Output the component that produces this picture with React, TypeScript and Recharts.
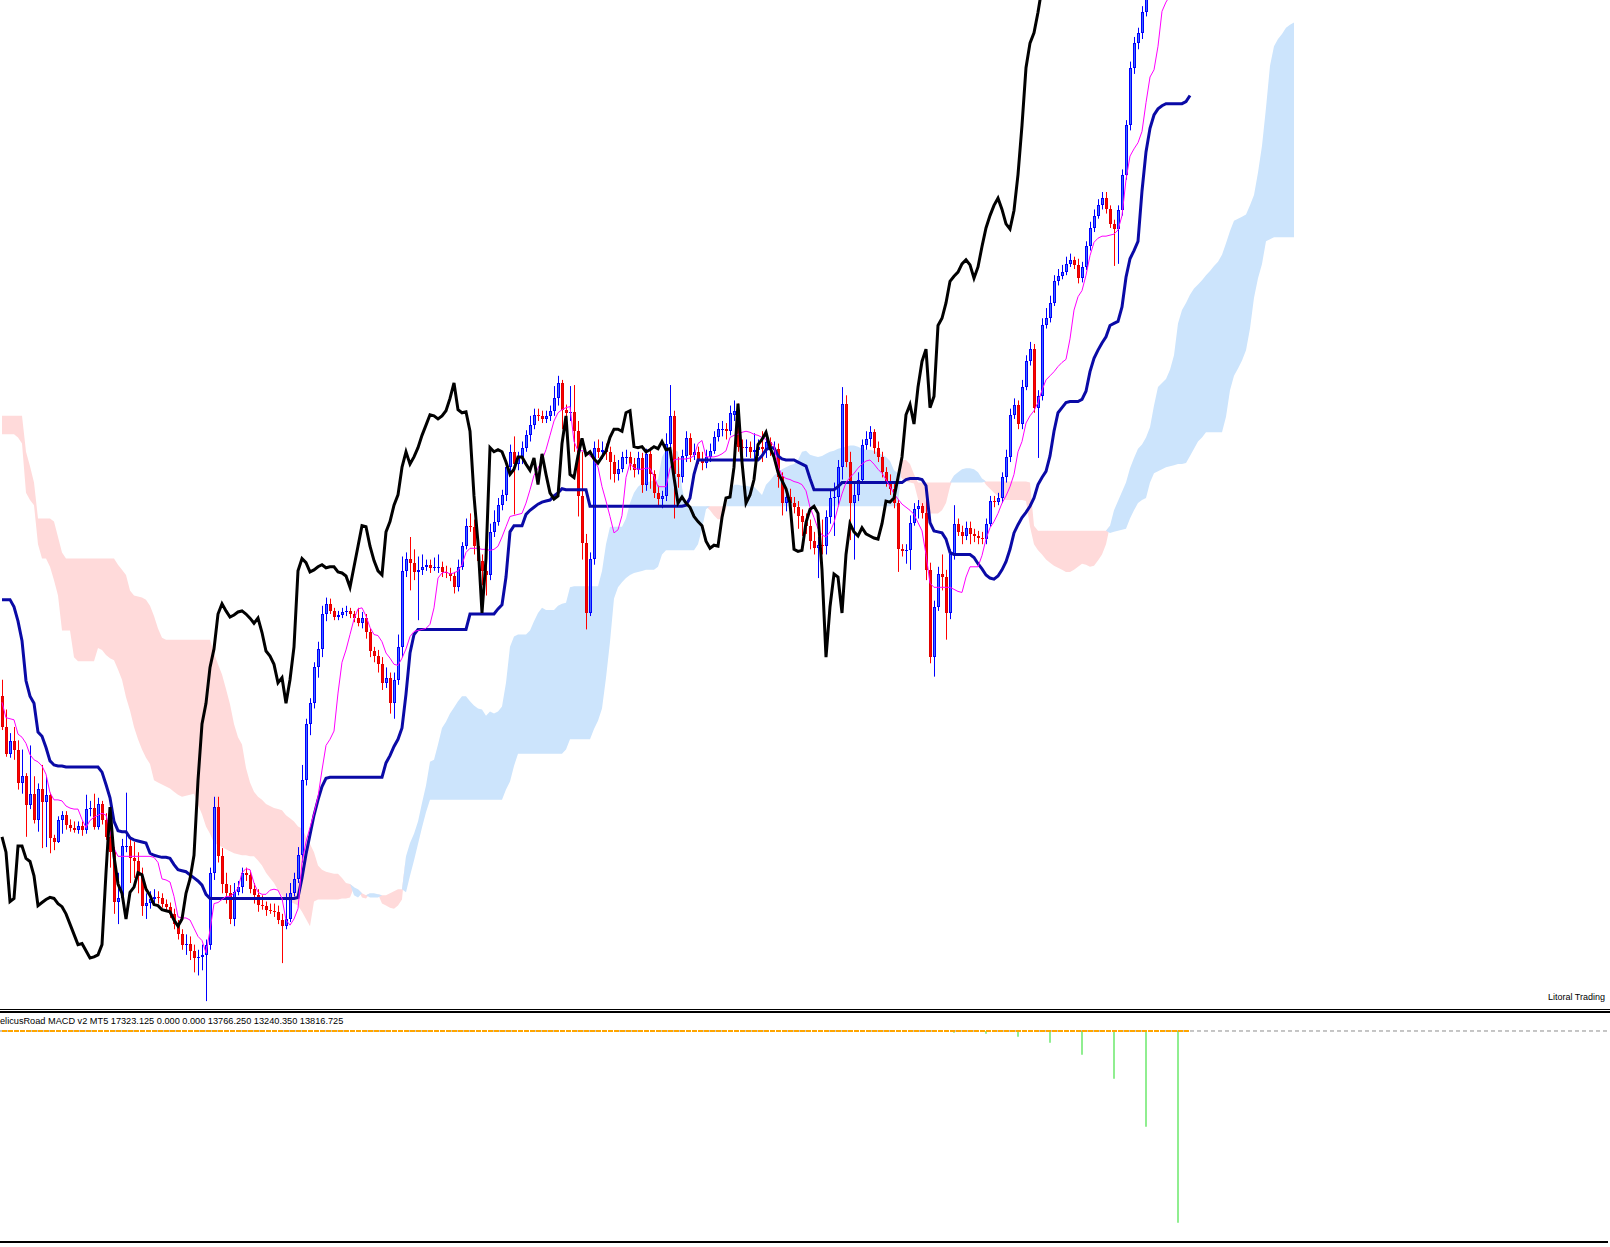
import React from "react";
import { Area, Bar, ComposedChart, Line, ReferenceLine, XAxis, YAxis } from "recharts";

// Daily bars, price in chart points. One entry per bar, oldest first.
const opens = [
  322, 292, 266, 278, 270, 237, 244, 216, 227, 201, 232, 219, 226, 184, 180, 201, 206, 197, 194, 192,
  196, 192, 212, 213, 195, 217, 201, 185, 170, 122, 125, 176, 176, 164, 161, 147, 118, 121, 124, 126,
  125, 120, 117, 110, 100, 90, 80, 81, 74, 67, 68, 70, 80, 150, 214, 166, 139, 130, 105, 131,
  136, 150, 148, 134, 128, 119, 118, 114, 113, 112, 104, 98, 105, 130, 144, 167, 240, 295, 315, 350,
  368, 402, 412, 405, 399, 401, 404, 405, 402, 398, 393, 398, 384, 366, 361, 353, 335, 340, 315, 338,
  370, 444, 456, 452, 443, 445, 448, 450, 447, 448, 448, 443, 442, 439, 428, 448, 468, 488, 487, 468,
  454, 444, 440, 482, 492, 508, 518, 545, 560, 548, 555, 564, 576, 586, 596, 595, 592, 595, 600, 612,
  627, 601, 598, 599, 580, 517, 471, 403, 456, 564, 560, 562, 560, 550, 538, 543, 555, 555, 548, 542,
  554, 528, 558, 538, 520, 514, 517, 568, 595, 538, 535, 556, 573, 557, 560, 553, 549, 555, 561, 574,
  582, 582, 580, 596, 600, 565, 564, 565, 560, 562, 565, 563, 570, 562, 563, 535, 510, 516, 510, 506,
  497, 492, 488, 473, 466, 469, 468, 496, 515, 516, 545, 607, 550, 510, 518, 533, 567, 572, 579, 564,
  555, 540, 532, 524, 510, 465, 463, 464, 491, 504, 507, 500, 445, 360, 409, 441, 438, 403, 460, 490,
  482, 478, 486, 480, 478, 476, 475, 490, 512, 511, 515, 535, 555, 596, 606, 587, 623, 648, 660, 603,
  614, 683, 690, 705, 726, 731, 735, 743, 747, 742, 729, 740, 760, 778, 790, 800, 807, 796, 782, 777,
  795, 830, 878, 934, 958, 968, 988, 1012, 1025, 1035, 1040, 1030, 1038, 1028, 1020, 1032, 1025, 1035,
];
const highs = [
  338, 309, 286, 292, 279, 270, 247, 274, 244, 237, 255, 244, 228, 187, 205, 210, 210, 202, 200, 200,
  200, 226, 220, 227, 223, 220, 208, 210, 175, 150, 183, 228, 185, 180, 170, 155, 130, 132, 134, 132,
  130, 124, 121, 115, 104, 95, 90, 88, 80, 75, 80, 85, 155, 224, 224, 174, 150, 138, 140, 142,
  155, 155, 152, 140, 134, 128, 122, 120, 120, 118, 110, 130, 140, 150, 175, 255, 300, 320, 355, 375,
  410, 418, 417, 408, 405, 408, 410, 408, 405, 408, 404, 402, 388, 370, 367, 360, 350, 345, 345, 382,
  458, 462, 477, 465, 458, 460, 455, 455, 457, 460, 453, 449, 447, 443, 455, 472, 495, 500, 494, 474,
  460, 485, 490, 503, 515, 523, 552, 567, 575, 560, 570, 581, 595, 602, 602, 600, 600, 605, 624, 634,
  630, 606, 624, 625, 590, 560, 480, 462, 570, 572, 570, 568, 565, 557, 552, 560, 562, 560, 554, 560,
  559, 563, 564, 542, 527, 522, 578, 625, 600, 555, 562, 580, 578, 568, 565, 560, 562, 568, 580, 588,
  590, 588, 605, 610, 607, 572, 572, 570, 578, 572, 580, 576, 574, 570, 568, 540, 522, 524, 516, 512,
  504, 500, 494, 482, 477, 494, 503, 522, 530, 552, 623, 615, 560, 530, 540, 572, 580, 585, 582, 570,
  560, 545, 538, 530, 513, 470, 470, 498, 510, 513, 510, 520, 452, 415, 448, 460, 445, 465, 508, 495,
  488, 492, 492, 485, 483, 482, 495, 517, 517, 520, 540, 562, 602, 612, 610, 630, 654, 667, 665, 620,
  690, 700, 712, 732, 738, 742, 750, 753, 750, 748, 745, 765, 784, 796, 806, 813, 813, 800, 786, 800,
  835, 883, 940, 964, 973, 994, 1018, 1032, 1042, 1046, 1044, 1043, 1042, 1034, 1038, 1040, 1041, 1040,
];
const lows = [
  289, 263, 262, 260, 231, 227, 185, 212, 198, 190, 174, 175, 169, 172, 179, 188, 192, 190, 189, 188,
  186, 188, 205, 192, 192, 197, 182, 155, 110, 100, 120, 170, 140, 145, 130, 108, 105, 115, 120, 120,
  116, 112, 106, 95, 85, 75, 70, 65, 53, 50, 55, 25, 75, 143, 160, 130, 120, 100, 98, 128,
  130, 142, 130, 120, 112, 114, 108, 110, 107, 100, 62, 95, 102, 127, 140, 160, 235, 284, 310, 340,
  360, 395, 402, 396, 396, 398, 400, 398, 394, 390, 388, 378, 360, 355, 345, 328, 330, 305, 300, 333,
  360, 438, 425, 435, 396, 440, 444, 442, 444, 442, 438, 437, 434, 422, 424, 445, 465, 482, 460, 448,
  430, 420, 435, 477, 488, 503, 512, 540, 499, 542, 548, 560, 570, 582, 590, 588, 588, 590, 595, 605,
  582, 580, 590, 560, 497, 455, 387, 400, 450, 554, 553, 552, 533, 530, 532, 540, 548, 542, 535, 538,
  520, 522, 524, 515, 508, 505, 512, 564, 495, 525, 530, 550, 550, 552, 548, 542, 544, 550, 558, 570,
  575, 572, 576, 590, 560, 558, 555, 554, 552, 556, 550, 554, 556, 555, 525, 498, 502, 504, 500, 485,
  478, 480, 465, 460, 437, 460, 460, 490, 478, 507, 533, 545, 474, 455, 512, 530, 562, 565, 558, 550,
  535, 526, 518, 505, 443, 458, 451, 445, 488, 495, 495, 435, 354, 341, 405, 425, 377, 397, 455, 478,
  470, 474, 470, 472, 470, 470, 470, 487, 506, 508, 510, 530, 550, 592, 582, 582, 620, 644, 598, 554,
  610, 680, 686, 702, 722, 728, 732, 740, 738, 724, 725, 737, 756, 774, 787, 796, 792, 778, 741, 743,
  790, 825, 873, 928, 952, 962, 984, 1006, 1018, 1028, 1024, 1022, 1020, 1012, 1014, 1018, 1020, 1022,
];
const closes = [
  292, 266, 278, 270, 237, 244, 216, 227, 201, 232, 219, 226, 184, 180, 201, 206, 197, 194, 192, 196,
  192, 212, 213, 195, 217, 201, 185, 170, 122, 125, 176, 176, 164, 161, 147, 118, 121, 124, 126, 125,
  120, 117, 110, 100, 90, 80, 81, 74, 67, 68, 70, 80, 150, 214, 166, 139, 130, 105, 131, 136,
  150, 148, 134, 128, 119, 118, 114, 113, 112, 104, 98, 105, 130, 144, 167, 240, 295, 315, 350, 368,
  402, 412, 405, 399, 401, 404, 405, 402, 398, 393, 398, 384, 366, 361, 353, 335, 340, 315, 338, 370,
  444, 456, 452, 443, 445, 448, 450, 447, 448, 448, 443, 442, 439, 428, 448, 468, 488, 487, 468, 454,
  444, 440, 482, 492, 508, 518, 545, 560, 548, 555, 564, 576, 586, 596, 595, 592, 595, 600, 612, 627,
  601, 598, 599, 580, 517, 471, 403, 456, 564, 560, 562, 560, 550, 538, 543, 555, 555, 548, 542, 554,
  528, 558, 538, 520, 514, 517, 568, 595, 538, 535, 556, 573, 557, 560, 553, 549, 555, 561, 574, 582,
  582, 580, 598, 600, 565, 564, 565, 560, 562, 565, 563, 570, 562, 563, 535, 510, 516, 510, 506, 497,
  492, 488, 473, 466, 469, 468, 496, 515, 516, 545, 607, 550, 510, 518, 533, 567, 572, 579, 564, 555,
  540, 532, 524, 510, 465, 463, 464, 491, 504, 507, 500, 445, 360, 409, 441, 438, 403, 460, 490, 482,
  478, 486, 480, 478, 476, 475, 490, 512, 511, 515, 535, 555, 596, 606, 587, 623, 648, 660, 603, 614,
  683, 690, 705, 726, 731, 735, 743, 747, 742, 729, 740, 760, 778, 790, 800, 807, 796, 782, 777, 795,
  830, 878, 934, 958, 968, 988, 1012, 1025, 1035, 1040, 1030, 1038, 1028, 1020, 1032, 1025, 1035, 1030,
];

// Ichimoku lines as plotted by the terminal
const tenkan = [
  316, 301, 300, 299, 285, 282, 276, 265, 260, 258, 254, 246, 228, 221, 221, 220, 215, 213, 212, 212,
  202, 194, 201, 204, 206, 208, 206, 191, 174, 166, 166, 166, 166, 166, 166, 166, 166, 166, 165, 160,
  144, 143, 141, 127, 107, 106, 106, 104, 96, 88, 84, 72, 94, 120, 121, 124, 127, 127, 130, 135,
  150, 154, 153, 140, 131, 129, 129, 133, 134, 133, 125, 104, 99, 105, 115, 160, 180, 194, 208, 224,
  250, 274, 280, 288, 325, 355, 367, 382, 397, 407, 408, 400, 389, 382, 381, 375, 364, 359, 353, 352,
  359, 368, 380, 385, 386, 387, 388, 392, 408, 437, 442, 443, 441, 442, 444, 450, 462, 466, 466, 466,
  465, 465, 464, 465, 468, 477, 487, 497, 498, 499, 500, 510, 523, 537, 544, 552, 562, 576, 590, 598,
  601, 603, 604, 570, 561, 561, 560, 556, 552, 545, 526, 512, 497, 481, 484, 498, 535, 549, 544, 543,
  543, 544, 544, 536, 526, 526, 526, 544, 552, 553, 553, 553, 554, 556, 568, 571, 555, 555, 555, 556,
  558, 561, 574, 576, 577, 579, 580, 579, 577, 576, 574, 572, 570, 566, 546, 537, 534, 533, 531, 530,
  528, 522, 506, 496, 485, 479, 477, 482, 491, 506, 519, 530, 535, 539, 544, 548, 551, 552, 548, 543,
  539, 533, 526, 519, 514, 509, 506, 503, 499, 491, 483, 460, 432, 428, 428, 428, 428, 428, 426, 424,
  423, 438, 448, 448, 448, 459, 475, 486, 492, 500, 510, 517, 526, 538, 560, 570, 588, 595, 600, 608,
  620, 630, 634, 638, 643, 647, 650, 670, 698, 711, 717, 732, 751, 764, 768, 770, 770, 771, 772, 776,
  790, 825, 848, 855, 861, 872, 900, 925, 932, 955, 989, 998, 1004, 1012, 1020, 1028, 1030, 1032,
];
const kijun = [
  416, 416, 416, 409, 395, 376, 337, 322, 315, 287, 283, 272, 259, 255, 254, 254, 253, 253, 253, 253,
  253, 253, 253, 253, 253, 248, 236, 223, 200, 191, 190, 190, 184, 182, 181, 180, 179, 169, 167, 166,
  165, 165, 164, 158, 153, 152, 151, 148, 145, 142, 138, 129, 125, 125, 125, 125, 125, 125, 125, 125,
  125, 125, 125, 125, 125, 125, 125, 125, 125, 125, 125, 125, 125, 125, 126, 145, 168, 187, 206, 221,
  234, 242, 243, 243, 243, 243, 243, 243, 243, 243, 243, 243, 243, 243, 243, 243, 257, 264, 273, 280,
  291, 324, 364, 382, 387, 387, 387, 387, 387, 387, 387, 387, 387, 387, 387, 387, 387, 402, 402, 402,
  402, 402, 402, 402, 407, 411, 438, 482, 488, 488, 488, 499, 503, 506, 509, 511, 512, 513, 517, 520,
  524, 523, 523, 523, 523, 523, 523, 507, 507, 507, 507, 507, 507, 507, 507, 507, 507, 507, 507, 507,
  507, 507, 507, 507, 507, 507, 507, 507, 507, 507, 507, 508, 515, 538, 552, 552, 552, 552, 552, 552,
  552, 552, 552, 552, 552, 552, 552, 552, 552, 552, 556, 562, 564, 564, 556, 553, 552, 552, 552, 550,
  548, 546, 534, 523, 523, 523, 523, 523, 523, 526, 530, 530, 530, 530, 530, 530, 530, 530, 530, 530,
  530, 530, 530, 530, 530, 530, 533, 534, 534, 534, 533, 527, 491, 483, 482, 481, 475, 462, 460, 460,
  460, 460, 460, 457, 451, 446, 440, 437, 436, 439, 445, 453, 465, 481, 489, 496, 501, 507, 515, 528,
  535, 541, 556, 580, 598, 603, 608, 609, 609, 609, 611, 619, 638, 651, 659, 666, 672, 683, 685, 687,
  701, 730, 748, 756, 765, 814, 852, 875, 888, 894, 897, 899, 899, 899, 899, 899, 901, 907,
];
// Senkou spans, already shifted 26 bars forward (so they run past the last bar)
const spanA = [
  577, 577, 577, 577, 574, 568, 520, 513, 508, 470, 456, 456, 448, 435, 420, 386, 386, 386, 360, 356,
  356, 356, 356, 356, 369, 367, 362, 359, 357, 348, 338, 321, 308, 292, 280, 270, 262, 256, 240, 238,
  236, 234, 232, 229, 226, 224, 225, 226, 227, 216, 207, 195, 188, 179, 177, 175, 173, 171, 169, 168,
  167, 167, 166, 166, 162, 157, 150, 145, 140, 133, 128, 124, 122, 120, 118, 112, 105, 98, 122, 124,
  124, 124, 124, 124, 124, 125, 125, 126, 136, 134, 126, 125, 130, 130, 129, 120, 118, 116, 115, 118,
  124, 166, 179, 188, 200, 218, 235, 258, 260, 275, 291, 297, 305, 311, 317, 322, 322, 317, 313, 310,
  309, 303, 307, 305, 307, 312, 335, 370, 380, 382, 382, 382, 386, 395, 403, 408, 406, 406, 406, 410,
  412, 413, 428, 429, 429, 429, 429, 429, 429, 429, 444, 470, 487, 487, 487, 487, 495, 510, 520, 526,
  529, 530, 531, 532, 533, 555, 562, 562, 562, 560, 525, 508, 507, 507, 507, 507, 507, 503, 498, 494,
  495, 504, 522, 528, 528, 527, 527, 526, 526, 522, 518, 528, 532, 537, 540, 543, 545, 547, 548, 552,
  560, 561, 557, 556, 555, 556, 558, 560, 561, 563, 564, 565, 566, 566, 565, 563, 562, 562, 561, 559,
  557, 555, 551, 542, 539, 534, 531, 530, 529, 514, 504, 500, 500, 500, 500, 503, 510, 526, 537, 540,
  543, 544, 544, 543, 540, 534, 528, 524, 520, 517, 514, 513, 513, 513, 513, 513, 512, 487, 470, 464,
  460, 455, 452, 449, 447, 445, 443, 443, 445, 448, 451, 450, 448, 449, 454, 460, 470, 488, 503, 512,
  521, 530, 544, 554, 563, 567, 574, 584, 605, 623, 627, 631, 640, 654, 685, 698, 705, 713, 719, 723,
  727, 732, 736, 741, 745, 752, 763, 775, 785, 787, 789, 791, 800, 810, 832, 858, 895, 936, 955, 962,
  967, 973, 976, 978,
];
const spanB = [
  595, 595, 595, 595, 595, 595, 560, 546, 530, 495, 495, 495, 495, 492, 477, 462, 456, 456, 456, 456,
  456, 456, 456, 456, 456, 456, 456, 456, 456, 450, 445, 440, 425, 420, 419, 418, 416, 410, 400, 388,
  379, 377, 377, 377, 377, 377, 377, 377, 377, 377, 377, 377, 377, 364, 353, 343, 329, 314, 295, 282,
  275, 252, 238, 229, 224, 221, 217, 215, 213, 212, 211, 206, 203, 200, 195, 193, 185, 178, 170, 157,
  153, 151, 150, 149, 149, 145, 140, 139, 128, 126, 130, 128, 126, 126, 126, 128, 128, 130, 132, 134,
  134, 131, 147, 162, 178, 194, 209, 221, 221, 221, 221, 221, 221, 221, 221, 221, 221, 221, 221, 221,
  221, 221, 221, 221, 221, 221, 231, 239, 254, 266, 266, 266, 266, 266, 266, 266, 266, 266, 266, 266,
  266, 270, 280, 280, 280, 280, 280, 280, 290, 298, 310, 340, 375, 417, 428, 433, 437, 440, 442, 443,
  444, 445, 445, 445, 448, 460, 464, 464, 464, 464, 464, 464, 464, 464, 470, 485, 504, 507, 507, 507,
  507, 507, 507, 507, 507, 507, 507, 507, 507, 507, 507, 507, 507, 507, 507, 507, 507, 507, 507, 507,
  507, 507, 507, 507, 507, 507, 507, 507, 507, 507, 507, 507, 507, 507, 507, 507, 507, 507, 507, 507,
  507, 507, 507, 507, 507, 552, 552, 548, 538, 530, 530, 530, 530, 530, 530, 530, 530, 530, 530, 530,
  530, 530, 530, 530, 530, 530, 531, 531, 531, 531, 531, 531, 531, 531, 531, 531, 531, 530, 488, 483,
  483, 483, 483, 483, 483, 483, 483, 483, 483, 483, 483, 483, 483, 483, 483, 483, 483, 481, 482, 483,
  484, 485, 495, 503, 510, 513, 515, 530, 539, 541, 543, 545, 546, 547, 548, 548, 549, 556, 563, 570,
  574, 579, 579, 579, 579, 579, 594, 620, 634, 641, 649, 659, 680, 710, 729, 743, 765, 767, 769, 769,
  769, 769, 769, 769,
];
const CHIKOU_SHIFT = 26;

// MACD panel: histogram bars (bar index, value) and its flat main/signal level
const macdBarIndex = [238, 246, 254, 262, 270, 278, 286, 294];
const macdBarValue = [-0.9, -1.4, -3.0, -6.1, -12.4, -24.9, -50.0, -100.2];
const MACD_LEVEL = 0;
const MACD_LABEL = "elicusRoad MACD v2 MT5 17323.125 0.000 0.000 13766.250 13240.350 13816.725";

// time scale: one tick every 16 bars
const timeTicks = [13, 29, 45, 61, 77, 93, 109, 125, 141, 157, 173, 189, 205, 221, 237, 253, 269, 285];
const SLOTS = 402;

const BULL = "#0000FF";
const BEAR = "#FF0000";
const CLOUD_UP = "#CCE4FC";
const CLOUD_DOWN = "#FFDADA";

interface Row {
  i: number;
  o?: number;
  h?: number;
  l?: number;
  c?: number;
  range?: [number, number];
  tenkan?: number;
  kijun?: number;
  chikou?: number;
  kumoUp?: [number, number];
  kumoDown?: [number, number];
  hist?: number;
  macd?: number;
}

const rows: Row[] = Array.from({ length: SLOTS }, (_, i) => {
  const row: Row = { i };
  if (i < closes.length) {
    row.o = opens[i];
    row.h = highs[i];
    row.l = lows[i];
    row.c = closes[i];
    row.range = [lows[i], highs[i]];
    row.tenkan = tenkan[i];
    row.kijun = kijun[i];
    row.macd = MACD_LEVEL;
  }
  if (i + CHIKOU_SHIFT < closes.length) row.chikou = closes[i + CHIKOU_SHIFT];
  if (i < spanA.length) {
    // filled between the two spans: blue where A is above B, pink where B is above A
    const a = spanA[i];
    const b = spanB[i];
    const top = Math.max(a, b);
    row.kumoUp = [b, top];
    row.kumoDown = [a, top];
  }
  const k = macdBarIndex.indexOf(i);
  if (k >= 0) row.hist = macdBarValue[k];
  return row;
});

function Candle(props: any) {
  const { x, y, width, height, payload } = props;
  if (!payload || payload.o == null || !(height > 0)) return null;
  const { o, c, h, l } = payload as Required<Row>;
  const perPoint = height / (h - l);
  const at = (v: number) => y + (h - v) * perPoint;
  const up = c >= o;
  const cx = Math.floor(x + width / 2) + 0.5;
  const left = cx - 1.5;
  const top = Math.round(at(Math.max(o, c)));
  const bottom = Math.round(at(Math.min(o, c)));
  const col = up ? BULL : BEAR;
  return (
    <g>
      <line x1={cx} x2={cx} y1={y} y2={y + height} stroke={col} strokeWidth={1} />
      {bottom - top <= 1 ? (
        <rect x={left} y={top} width={3} height={1} fill={col} />
      ) : (
        <rect
          x={left + 0.5}
          y={top + 0.5}
          width={2}
          height={bottom - top - 1}
          fill={up ? "#3D6BFF" : "#FF0000"}
          stroke={up ? BULL : "#E00000"}
          strokeWidth={1}
        />
      )}
    </g>
  );
}

const labelFont = "'Liberation Sans', Arial, sans-serif";
const chartMargin = { top: 0, right: 2, bottom: 0, left: 0 };

export default function App() {
  return (
    <div
      style={{
        position: "absolute",
        left: 0,
        top: 0,
        width: 1610,
        height: 1247,
        background: "#fff",
        overflow: "hidden",
      }}
    >
      <div style={{ position: "absolute", left: 0, top: 0 }}>
        <ComposedChart width={1610} height={1008} data={rows} margin={chartMargin} barCategoryGap={0} barGap={0}>
          <XAxis dataKey="i" type="category" hide />
          <YAxis type="number" domain={[18.29, 1000]} allowDataOverflow hide />
          <Area
            dataKey="kumoDown"
            type="linear"
            stroke="none"
            fill={CLOUD_DOWN}
            fillOpacity={1}
            dot={false}
            activeDot={false}
            isAnimationActive={false}
          />
          <Area
            dataKey="kumoUp"
            type="linear"
            stroke="none"
            fill={CLOUD_UP}
            fillOpacity={1}
            dot={false}
            activeDot={false}
            isAnimationActive={false}
          />
          <Bar dataKey="range" barSize={3} shape={Candle} isAnimationActive={false} />
          <Line
            dataKey="kijun"
            stroke="#0A0AA6"
            strokeWidth={3}
            dot={false}
            activeDot={false}
            isAnimationActive={false}
          />
          <Line
            dataKey="tenkan"
            stroke="#FF00FF"
            strokeWidth={1}
            dot={false}
            activeDot={false}
            isAnimationActive={false}
          />
          <Line
            dataKey="chikou"
            stroke="#000000"
            strokeWidth={3}
            dot={false}
            activeDot={false}
            isAnimationActive={false}
          />
        </ComposedChart>
      </div>

      <div
        style={{
          position: "absolute",
          right: 5,
          top: 991,
          fontFamily: labelFont,
          fontSize: 9,
          lineHeight: "12px",
          color: "#000",
          whiteSpace: "nowrap",
        }}
      >
        Litoral Trading
      </div>

      <div style={{ position: "absolute", left: 0, top: 1009, width: 1610, height: 1, background: "#000" }} />
      <div style={{ position: "absolute", left: 0, top: 1011, width: 1610, height: 2, background: "#000" }} />

      {/* MACD sub-window */}
      <div style={{ position: "absolute", left: 0, top: 1013 }}>
        <ComposedChart width={1610} height={234} data={rows} margin={chartMargin} barCategoryGap={0}>
          <XAxis
            dataKey="i"
            type="category"
            ticks={timeTicks}
            interval={0}
            tick={false}
            tickSize={5}
            height={5}
            axisLine={{ stroke: "#000", strokeWidth: 2 }}
            tickLine={{ stroke: "#000" }}
          />
          <YAxis type="number" domain={[-110.29, 9.408]} allowDataOverflow hide />
          <ReferenceLine y={0} stroke="#8C8C8C" strokeDasharray="4 3" />
          <Bar dataKey="hist" fill="#90EE90" barSize={2} isAnimationActive={false} />
          <Line
            dataKey="macd"
            stroke="#FFA500"
            strokeWidth={2}
            strokeDasharray="5 1"
            dot={false}
            activeDot={false}
            isAnimationActive={false}
          />
        </ComposedChart>
      </div>

      <div
        style={{
          position: "absolute",
          left: 0,
          top: 1015,
          fontFamily: labelFont,
          fontSize: 9.2,
          lineHeight: "12px",
          color: "#000",
          whiteSpace: "nowrap",
        }}
      >
        {MACD_LABEL}
      </div>
    </div>
  );
}
